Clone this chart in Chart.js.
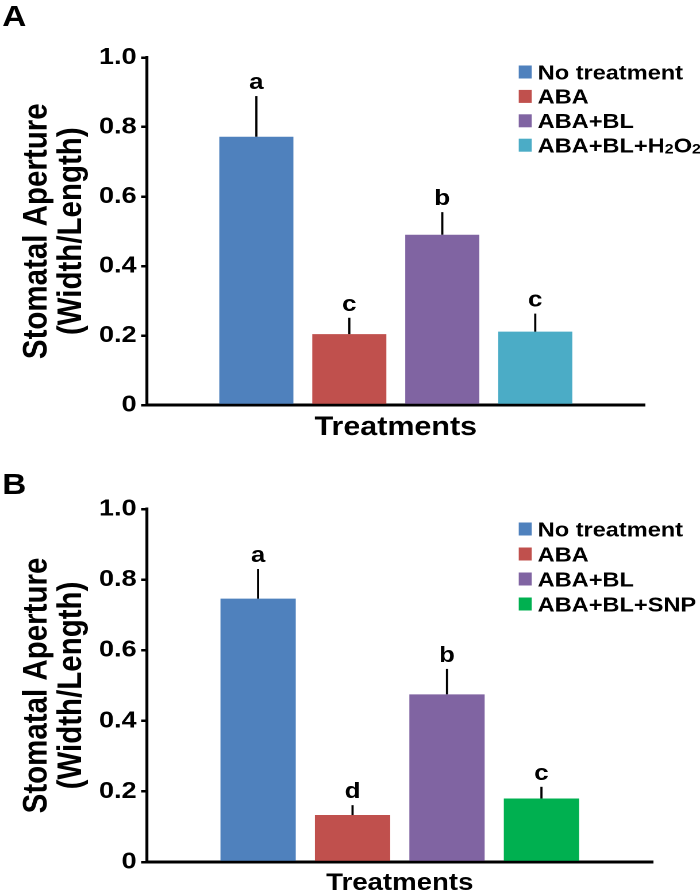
<!DOCTYPE html>
<html>
<head>
<meta charset="utf-8">
<script src="https://cdn.jsdelivr.net/npm/chart.js@4.4.0/dist/chart.umd.min.js"></script>
<style>
html,body{margin:0;padding:0;background:#fff;overflow:hidden;width:700px;height:896px;}
#wrap{position:absolute;left:0;top:0;width:609px;height:896px;transform:scaleX(1.1494);transform-origin:0 0;}
.panel{position:absolute;left:2px;font-family:'Liberation Sans',Arial,sans-serif;font-weight:bold;font-size:29px;line-height:29px;color:#000;}
.box{position:absolute;left:0;width:609px;}
canvas{display:block;}
</style>
</head>
<body>
<div id="wrap">
  <div class="panel" style="top:2px">A</div>
  <div class="panel" style="top:470px">B</div>
  <div class="box" style="top:0;height:448px"><canvas id="chartA" width="609" height="448" style="width:609px;height:448px"></canvas></div>
  <div class="box" style="top:448px;height:460px"><canvas id="chartB" width="609" height="460" style="width:609px;height:460px"></canvas></div>
</div>
<script>
// ---- data ----
const treatmentsA = ["No treatment", "ABA", "ABA+BL", "ABA+BL+H\u2082O\u2082"];
const meansA      = [0.772, 0.204, 0.490, 0.211];
const errorsA     = [0.117, 0.047, 0.065, 0.052];
const lettersA    = ["a", "c", "b", "c"];

const treatmentsB = ["No treatment", "ABA", "ABA+BL", "ABA+BL+SNP"];
const meansB      = [0.746, 0.133, 0.475, 0.180];
const errorsB     = [0.084, 0.028, 0.072, 0.033];
const lettersB    = ["a", "d", "b", "c"];

const colorsA = ["#4F81BD", "#C0504D", "#8064A2", "#4BACC6"];
const colorsB = ["#4F81BD", "#C0504D", "#8064A2", "#00B050"];

const categories  = [""];
const yTickLabels = ["0", "0.2", "0.4", "0.6", "0.8", "1.0"];
const xAxisTitle  = "Treatments";
const yAxisTitle  = ["Stomatal Aperture", "(Width/Length)"];

const FONT = "'Liberation Sans', Arial, Helvetica, sans-serif";
Chart.defaults.font.family = FONT;
Chart.defaults.font.weight = 'bold';
Chart.defaults.color = '#000';

// error bars + significance letters
const errPlugin = {
  id: 'errLetters',
  afterDatasetsDraw(chart) {
    const ctx = chart.ctx, ys = chart.scales.y;
    chart.data.datasets.forEach((ds, i) => {
      const bar = chart.getDatasetMeta(i).data[0];
      const top = ys.getPixelForValue(ds.data[0] + ds.err);
      ctx.save();
      ctx.strokeStyle = '#000';
      ctx.lineWidth = 1.9;
      ctx.beginPath();
      ctx.moveTo(bar.x, bar.y);
      ctx.lineTo(bar.x, top);
      ctx.stroke();
      ctx.fillStyle = '#000';
      ctx.font = "bold 22.5px " + FONT;
      ctx.textAlign = 'center';
      ctx.textBaseline = 'alphabetic';
      ctx.fillText(ds.letter, bar.x, top - 7);
      ctx.restore();
    });
  }
};

// legend inside plot area (supports subscript digits)
const legendPlugin = {
  id: 'insideLegend',
  afterDraw(chart, args, opts) {
    const ctx = chart.ctx, a = chart.chartArea;
    const size = opts.size;
    chart.data.datasets.forEach((ds, i) => {
      const cy = a.top + opts.top + i * opts.gap;
      ctx.save();
      ctx.fillStyle = ds.backgroundColor;
      ctx.fillRect(opts.x, cy - 6.5, 11.3, 13);
      ctx.fillStyle = '#000';
      ctx.textBaseline = 'alphabetic';
      ctx.textAlign = 'left';
      const base = cy + 0.358 * size;
      let x = opts.textX;
      let run = '';
      const flush = () => {
        if (!run) return;
        ctx.font = "bold " + size + "px " + FONT;
        ctx.fillText(run, x, base);
        x += ctx.measureText(run).width;
        run = '';
      };
      for (const ch of ds.label) {
        const code = ch.charCodeAt(0);
        if (code >= 0x2080 && code <= 0x2089) {
          flush();
          const d = String(code - 0x2080);
          ctx.font = "bold " + Math.round(size * 0.68) + "px " + FONT;
          ctx.fillText(d, x, base + 1);
          x += ctx.measureText(d).width;
        } else {
          run += ch;
        }
      }
      flush();
      ctx.restore();
    });
  }
};

function makeChart(id, names, means, errs, letters, colors, geo) {
  const datasets = names.map((n, i) => ({
    label: n,
    data: [means[i]],
    err: errs[i],
    letter: letters[i],
    backgroundColor: colors[i],
    borderWidth: 0,
    categoryPercentage: 0.747,
    barPercentage: 0.797
  }));
  return new Chart(document.getElementById(id), {
    type: 'bar',
    data: { labels: categories, datasets },
    options: {
      responsive: false,
      animation: false,
      devicePixelRatio: 2,
      layout: { padding: { left: 5, right: geo.pr, top: geo.pt, bottom: 0 } },
      plugins: {
        legend: { display: false },
        tooltip: { enabled: false },
        insideLegend: { top: geo.legTop, gap: geo.legGap, x: 451.3, textX: 467.8, size: 20.5 }
      },
      scales: {
        x: {
          z: 1,
          grid: { display: false },
          border: { display: true, color: '#000', width: 3 },
          ticks: { display: false },
          title: {
            display: true, text: xAxisTitle, color: '#000',
            font: { size: geo.xtSize, weight: 'bold', lineHeight: 1.2 },
            padding: { top: 0, bottom: geo.xtPad }
          },
          afterFit: s => { s.height = geo.xh; }
        },
        y: {
          z: 1,
          min: 0, max: 1,
          ticks: {
            stepSize: 0.2, padding: 4, color: '#000',
            font: { size: 23.5, weight: 'bold' },
            callback: v => yTickLabels[Math.round(v * 5)]
          },
          grid: { drawOnChartArea: false, drawTicks: true, tickLength: 5, color: '#000', lineWidth: 2.5 },
          border: { display: true, color: '#000', width: 2.6 },
          title: {
            display: true, text: yAxisTitle, color: '#000',
            font: { size: 29.5, weight: 'bold', lineHeight: 1.03 },
            padding: { top: 12, bottom: 0 }
          },
          afterFit: s => { s.width = 122.8; }
        }
      }
    },
    plugins: [errPlugin, legendPlugin]
  });
}

makeChart('chartA', treatmentsA, meansA, errorsA, lettersA, colorsA,
  { pr: 48.1, pt: 57.5, xh: 43, xtSize: 26.5, xtPad: 4.3, legTop: 14.5, legGap: 24.4 });
makeChart('chartB', treatmentsB, meansB, errorsB, lettersB, colorsB,
  { pr: 41.2, pt: 61, xh: 46, xtSize: 24, xtPad: 10, legTop: 20, legGap: 25 });
</script>
</body>
</html>
